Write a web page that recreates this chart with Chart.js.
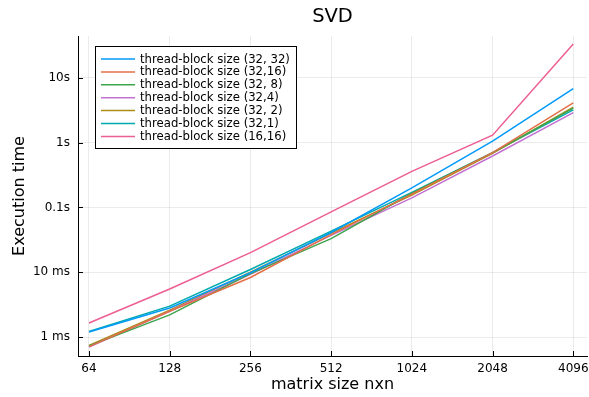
<!DOCTYPE html>
<html lang="en">
<head>
    <meta charset="UTF-8">
    <title>SVD</title>
    <script src="https://cdn.jsdelivr.net/npm/chart.js"></script>
    <style>
        html, body { margin: 0; padding: 0; background: #fff; }
        #wrap { width: 589px; height: 397px; }
    </style>
</head>
<body>
    <div id="wrap">
        <canvas id="svdChart" width="589" height="397"></canvas>
    </div>
    <script>
        // matrix sizes (n x n)
        const sizes = [64, 128, 256, 512, 1024, 2048, 4096];

        // execution times in seconds, one list per thread-block size
        const t32x32 = [0.00120, 0.0028, 0.0098, 0.041, 0.200, 1.05, 6.8];
        const t32x16 = [0.00071, 0.0025, 0.0083, 0.038, 0.160, 0.70, 4.1];
        const t32x8  = [0.00073, 0.0022, 0.0095, 0.033, 0.165, 0.70, 3.4];
        const t32x4  = [0.00070, 0.0025, 0.0093, 0.037, 0.140, 0.62, 2.9];
        const t32x2  = [0.00074, 0.0026, 0.0100, 0.040, 0.155, 0.68, 3.5];
        const t32x1  = [0.00122, 0.0030, 0.0110, 0.043, 0.170, 0.70, 3.2];
        const t16x16 = [0.00165, 0.0055, 0.0200, 0.085, 0.360, 1.30, 33];

        const seriesNames = [
            'thread-block size (32, 32)',
            'thread-block size (32,16)',
            'thread-block size (32, 8)',
            'thread-block size (32,4)',
            'thread-block size (32, 2)',
            'thread-block size (32,1)',
            'thread-block size (16,16)'
        ];
        const seriesData = [t32x32, t32x16, t32x8, t32x4, t32x2, t32x1, t16x16];
        const colors = ['#009AFA', '#E36F47', '#3EA44E', '#C371D2', '#AC8D18', '#00A9AD', '#ED5E93'];

        // y tick positions and their labels
        const yTicks = [0.001, 0.01, 0.1, 1, 10];
        const yTickLabels = ['1 ms', '10 ms', '0.1s', '1s', '10s'];

        const chartTitle = 'SVD';
        const FONT = 'DejaVu Sans';

        const datasets = seriesData.map((vals, i) => ({
            label: seriesNames[i],
            data: vals.map((v, j) => ({ x: Math.log2(sizes[j]), y: v })),
            borderColor: colors[i],
            backgroundColor: colors[i],
            borderWidth: 1.5,
            pointRadius: 0,
            tension: 0,
            fill: false
        }));

        // short tick marks pointing into the plot, plus the title centred over the plot area
        const frameExtras = {
            id: 'frameExtras',
            afterDraw(chart) {
                const ctx = chart.ctx;
                const area = chart.chartArea;
                const xs = chart.scales.x, ys = chart.scales.y;
                ctx.save();
                ctx.strokeStyle = '#000';
                ctx.lineWidth = 1;
                ctx.beginPath();
                xs.ticks.forEach(t => {
                    const px = Math.round(xs.getPixelForValue(t.value)) + 0.5;
                    ctx.moveTo(px, area.bottom);
                    ctx.lineTo(px, area.bottom - 5);
                });
                ys.ticks.forEach(t => {
                    const py = Math.round(ys.getPixelForValue(t.value)) + 0.5;
                    ctx.moveTo(area.left, py);
                    ctx.lineTo(area.left + 5, py);
                });
                ctx.stroke();

                ctx.fillStyle = '#000';
                ctx.font = '19.5px "' + FONT + '"';
                ctx.textAlign = 'center';
                ctx.textBaseline = 'middle';
                ctx.fillText(chartTitle, (area.left + area.right) / 2, 17);
                ctx.restore();
            }
        };

        // boxed legend in the upper left of the plot
        const boxLegend = {
            id: 'boxLegend',
            afterDraw(chart) {
                const ctx = chart.ctx;
                const area = chart.chartArea;
                const sets = chart.data.datasets;
                const left = area.left + 17, top = area.top + 10;
                const rowH = 12.9;
                ctx.save();
                ctx.font = '11.7px "' + FONT + '"';
                let maxW = 0;
                sets.forEach(d => { maxW = Math.max(maxW, ctx.measureText(d.label).width); });
                const w = 45 + maxW + 6, h = rowH * sets.length + 12;
                ctx.fillStyle = '#fff';
                ctx.fillRect(left, top, w, h);
                ctx.strokeStyle = '#000';
                ctx.lineWidth = 1;
                ctx.strokeRect(Math.round(left) + 0.5, Math.round(top) + 0.5, Math.round(w), Math.round(h));
                sets.forEach((d, i) => {
                    const y = top + 13 + i * rowH;
                    ctx.strokeStyle = d.borderColor;
                    ctx.lineWidth = 1.5;
                    ctx.beginPath();
                    ctx.moveTo(left + 6, y);
                    ctx.lineTo(left + 40, y);
                    ctx.stroke();
                    ctx.fillStyle = '#000';
                    ctx.textBaseline = 'middle';
                    ctx.fillText(d.label, left + 45, y + 0.5);
                });
                ctx.restore();
            }
        };

        new Chart(document.getElementById('svdChart'), {
            type: 'line',
            data: { datasets: datasets },
            options: {
                responsive: false,
                animation: false,
                devicePixelRatio: 1,
                layout: { padding: { left: 0, right: 2, top: 36, bottom: 0 } },
                plugins: {
                    legend: { display: false },
                    tooltip: { enabled: false },
                    title: { display: false }
                },
                scales: {
                    x: {
                        type: 'linear',
                        min: Math.log2(64) - 0.136,
                        max: Math.log2(4096) + 0.17,
                        afterBuildTicks: s => { s.ticks = sizes.map(v => ({ value: Math.log2(v) })); },
                        afterFit: s => { s.height = 41; s.paddingLeft = 0; s.paddingRight = 0; },
                        ticks: {
                            color: '#000',
                            font: { family: FONT, size: 12 },
                            padding: 6,
                            maxRotation: 0,
                            callback: v => String(Math.round(Math.pow(2, v)))
                        },
                        grid: { color: 'rgba(0,0,0,0.08)', lineWidth: 1, drawTicks: false },
                        border: { color: '#000', width: 1 },
                        title: {
                            display: true,
                            text: 'matrix size nxn',
                            color: '#000',
                            font: { family: FONT, size: 16 },
                            padding: { top: 4, bottom: 3 }
                        }
                    },
                    y: {
                        type: 'logarithmic',
                        min: 5.1e-4,
                        max: 44,
                        afterBuildTicks: s => { s.ticks = yTicks.map(v => ({ value: v })); },
                        afterFit: s => { s.width = 78; s.paddingTop = 0; s.paddingBottom = 0; },
                        ticks: {
                            color: '#000',
                            font: { family: FONT, size: 12 },
                            padding: 8,
                            callback: v => yTickLabels[yTicks.indexOf(v)]
                        },
                        grid: { color: 'rgba(0,0,0,0.08)', lineWidth: 1, drawTicks: false },
                        border: { color: '#000', width: 1 },
                        title: {
                            display: true,
                            text: 'Execution time',
                            color: '#000',
                            font: { family: FONT, size: 16 },
                            padding: { top: 10, bottom: 4 }
                        }
                    }
                }
            },
            plugins: [frameExtras, boxLegend]
        });
    </script>
</body>
</html>
